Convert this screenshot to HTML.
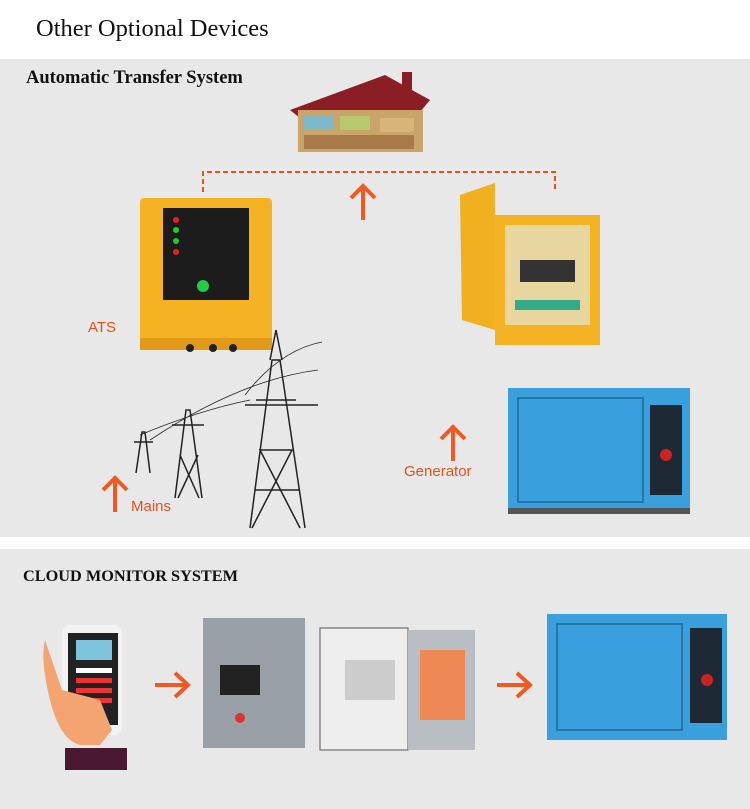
<!DOCTYPE html>
<html><head><style>
body{margin:0;width:750px;height:809px;position:relative;background:#fff;overflow:hidden;font-family:"Liberation Sans",sans-serif}
.a{position:absolute}
.t{font-family:"Liberation Serif",serif;color:#111}
.o{color:#e8501e;font-size:15px}
</style></head><body>
<div class="a t" style="left:36px;top:15px;font-size:24.5px">Other Optional Devices</div>
<div class="a" style="left:0;top:59px;width:750px;height:478px;background:#e8e8e8"></div>
<div class="a" style="left:0;top:549px;width:750px;height:260px;background:#e8e8e8"></div>
<div class="a t" style="left:26px;top:68px;font-size:18.5px;font-weight:bold">Automatic Transfer System</div>
<div class="a t" style="left:23px;top:566px;font-size:16.3px;font-weight:bold">CLOUD MONITOR SYSTEM</div>
<svg class="a" style="left:0;top:0" width="750" height="809">
<defs><g id="up"><path d="M-12 12 L0 0 L12 12" fill="none" stroke="#f05a22" stroke-width="4"/><path d="M0 1 V34" stroke="#f05a22" stroke-width="4"/></g>
<g id="rt"><path d="M0 0 H32" stroke="#f05a22" stroke-width="4"/><path d="M20 -12 L33 0 L20 12" fill="none" stroke="#f05a22" stroke-width="4"/></g></defs>
<polygon points="290,110 385,75 430,100 420,112 300,118" fill="#8a1e24"/>
<rect x="298" y="110" width="125" height="42" fill="#c9a56a"/>
<rect x="304" y="116" width="30" height="14" fill="#7fb8c8"/><rect x="340" y="116" width="30" height="14" fill="#b7c96c"/><rect x="380" y="118" width="34" height="14" fill="#d9b47a"/>
<rect x="304" y="135" width="110" height="14" fill="#a87a4a"/>
<rect x="402" y="72" width="10" height="18" fill="#8a1e24"/>
<path d="M203 192 V172 H555 V192" fill="none" stroke="#e8501e" stroke-width="2" stroke-dasharray="5,3"/>
<use href="#up" x="363" y="186"/>
<rect x="140" y="198" width="132" height="152" rx="4" fill="#f5b324"/>
<rect x="163" y="208" width="86" height="92" fill="#1c1c1c"/>
<circle cx="176" cy="220" r="3" fill="#e22"/><circle cx="176" cy="230" r="3" fill="#2c2"/><circle cx="176" cy="241" r="3" fill="#2c2"/><circle cx="176" cy="252" r="3" fill="#e22"/>
<circle cx="203" cy="286" r="6" fill="#2c4"/>
<rect x="140" y="338" width="132" height="12" fill="#e09a18"/>
<circle cx="190" cy="348" r="4" fill="#222"/><circle cx="213" cy="348" r="4" fill="#222"/><circle cx="233" cy="348" r="4" fill="#222"/>
<polygon points="460,195 495,183 495,330 462,320" fill="#f0b020"/>
<rect x="495" y="215" width="105" height="130" fill="#f5b324"/>
<rect x="505" y="225" width="85" height="100" fill="#e8d6a0"/>
<rect x="520" y="260" width="55" height="22" fill="#333"/><rect x="515" y="300" width="65" height="10" fill="#3a8"/>
<g stroke="#222" stroke-width="1.5" fill="none">
<path d="M250 528 L272 360 L280 360 L305 528 M256 400 H296 M245 405 L318 405 M260 450 L292 450 M255 490 L300 490 M252 528 L292 450 L260 450 L300 528 M270 360 L276 330 L282 360"/>
<path d="M175 498 L186 410 L190 410 L202 498 M172 425 H204 M178 498 L198 455 M199 498 L180 455"/>
<path d="M136 473 L142 432 L145 432 L150 473 M134 442 H153"/>
<path d="M245 395 Q280 350 322 342 M150 440 Q240 380 318 370 M140 435 Q200 410 250 400" stroke-width="0.8"/>
</g>
<rect x="508" y="388" width="182" height="124" fill="#3aa0dd"/>
<rect x="518" y="398" width="125" height="104" fill="none" stroke="#2477a8" stroke-width="2"/>
<rect x="650" y="405" width="32" height="90" fill="#1d2a36"/>
<circle cx="666" cy="455" r="6" fill="#c22"/>
<rect x="508" y="508" width="182" height="6" fill="#555"/>
<use href="#up" x="453" y="427"/>
<use href="#up" x="115" y="478"/>
<rect x="62" y="625" width="60" height="110" rx="8" fill="#f2f2f2"/>
<rect x="68" y="633" width="50" height="92" fill="#222"/>
<rect x="76" y="640" width="36" height="20" fill="#7ec4dc"/>
<rect x="76" y="668" width="36" height="5" fill="#fff"/><rect x="76" y="678" width="36" height="5" fill="#e33"/><rect x="76" y="688" width="36" height="5" fill="#e33"/><rect x="76" y="698" width="36" height="5" fill="#e33"/>
<path d="M45 640 Q40 660 50 700 Q60 740 80 745 L100 745 L112 730 L100 700 L62 690 Z" fill="#f4a470"/>
<rect x="65" y="748" width="62" height="22" fill="#4a1830"/>
<use href="#rt" x="155" y="685"/>
<rect x="203" y="618" width="102" height="130" fill="#9aa0a8"/>
<rect x="220" y="665" width="40" height="30" fill="#222"/><circle cx="240" cy="718" r="5" fill="#d33"/>
<rect x="320" y="628" width="88" height="122" fill="#eee" stroke="#555"/>
<rect x="408" y="630" width="67" height="120" fill="#b9bec4"/>
<rect x="345" y="660" width="50" height="40" fill="#ccc"/><rect x="420" y="650" width="45" height="70" fill="#e85"/>
<use href="#rt" x="497" y="685"/>
<rect x="547" y="614" width="180" height="126" fill="#3aa0dd"/>
<rect x="557" y="624" width="125" height="106" fill="none" stroke="#2477a8" stroke-width="2"/>
<rect x="690" y="628" width="32" height="95" fill="#1d2a36"/><circle cx="707" cy="680" r="6" fill="#c22"/>
</svg>
<div class="a o" style="left:88px;top:319px">ATS</div>
<div class="a o" style="left:404px;top:463px">Generator</div>
<div class="a o" style="left:131px;top:498px">Mains</div>
</body></html>
